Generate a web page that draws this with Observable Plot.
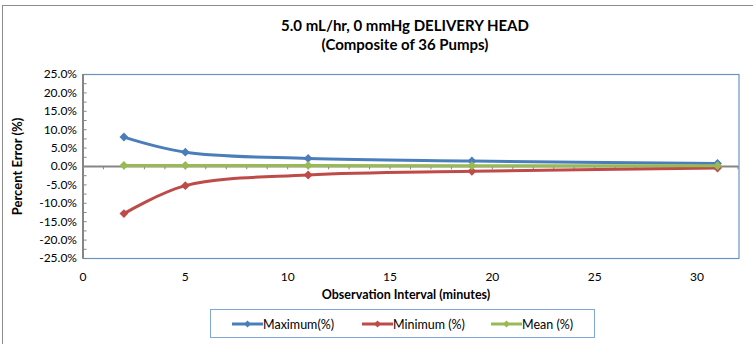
<!DOCTYPE html>
<html>
<head>
<meta charset="utf-8">
<script src="https://cdn.jsdelivr.net/npm/d3@7"></script>
<script src="https://cdn.jsdelivr.net/npm/@observablehq/plot@0.6"></script>
<style>
  html, body { margin: 0; padding: 0; background: #fff; }
  #wrap { position: relative; width: 753px; height: 344px; overflow: hidden; font-family: Lato, "Open Sans", sans-serif; }
  #wrap > svg { position: absolute; left: 0; top: 0; }
  .frameline { position: absolute; left: 2px; top: 5px; width: 800px; height: 400px; border-top: 1.5px solid #8c8c8c; border-left: 1.5px solid #8c8c8c; box-sizing: border-box; }
  .title { position: absolute; left: 0; width: 810px; top: 16px; text-align: center; font-weight: bold; font-size: 15px; line-height: 19px; color: #000; }
  .legend { position: absolute; left: 210px; top: 309px; width: 385px; height: 29px; border: 1px solid #7ea6d8; box-sizing: border-box; font-size: 12.5px; color: #000; }
  .item { position: absolute; top: 5px; display: flex; align-items: center; height: 18px; }
  #wrap .item svg { position: static; display: block; }
</style>
</head>
<body>
<div id="wrap">
  <div class="frameline"></div>
  <div class="title">5.0 mL/hr, 0 mmHg DELIVERY HEAD<br>(Composite of 36 Pumps)</div>
</div>
<script>
// Data
const intervals = [2, 5, 11, 19, 31];
const seriesNames = ["Maximum(%)", "Minimum (%)", "Mean (%)"];
const maximum = [8.0, 3.9, 2.2, 1.5, 0.8];
const minimum = [-12.8, -5.2, -2.3, -1.3, -0.4];
const mean = [0.3, 0.3, 0.3, 0.2, 0.2];
const colors = ["#4a7ebb", "#be4b48", "#98b954"];
const yTicks = [-25, -20, -15, -10, -5, 0, 5, 10, 15, 20, 25];
const xTicks = [0, 5, 10, 15, 20, 25, 30];

const seriesValues = [maximum, minimum, mean];
const rows = [];
seriesNames.forEach((name, i) => {
  intervals.forEach((x, j) => rows.push({series: name, x, y: seriesValues[i][j]}));
});

const minorY = d3.range(-25, 25.01, 2.5);
const minorX = d3.range(0, 33, 1);

const chart = Plot.plot({
  width: 753,
  height: 344,
  marginLeft: 82.5,
  marginRight: 14.5,
  marginTop: 74,
  marginBottom: 86,
  style: {fontFamily: "Lato, 'Open Sans', sans-serif", background: "transparent"},
  x: {domain: [0, 32.05]},
  y: {domain: [-25, 25]},
  color: {domain: seriesNames, range: colors},
  marks: [
    Plot.frame({stroke: "#4f81bd", strokeWidth: 1.2, strokeOpacity: 0.85}),
    Plot.ruleY(minorY, {x1: 0, x2: 0.2, stroke: "#868686", strokeWidth: 1}),
    Plot.ruleX(minorX.filter(d => d > 0), {y1: 0, y2: -0.9, stroke: "#868686", strokeWidth: 1}),
    Plot.ruleY([0], {stroke: "#868686", strokeWidth: 2}),
    Plot.ruleX([0], {stroke: "#868686", strokeWidth: 2}),
    Plot.axisY(yTicks, {tickSize: 0, tickPadding: 6, tickFormat: d => d.toFixed(1) + "%", fontSize: 12, fill: "#000", label: null}),
    Plot.axisX(xTicks, {tickSize: 0, tickPadding: 14, fontSize: 12, fill: "#000", label: null}),
    Plot.text(["Percent Error (%)"], {x: -3.2, y: 0, rotate: -90, fontWeight: "bold", fontSize: 13, fill: "#000", textAnchor: "middle"}),
    Plot.text(["Observation Interval (minutes)"], {frameAnchor: "bottom", dy: 40, fontWeight: "bold", fontSize: 12.5, fill: "#000", dx: -5}),
    Plot.line(rows, {x: "x", y: "y", z: "series", stroke: "series", strokeWidth: 3, curve: "catmull-rom"}),
    Plot.dot(rows, {x: "x", y: "y", fill: "series", symbol: "diamond2", r: 4})
  ]
});
document.getElementById("wrap").appendChild(chart);

// Legend
const legend = document.createElement("div");
legend.className = "legend";
const positions = [21, 151, 280];
seriesNames.forEach((name, i) => {
  const item = document.createElement("div");
  item.className = "item";
  item.style.left = positions[i] + "px";
  item.innerHTML = `<svg width="31" height="10"><line x1="0" y1="5" x2="31" y2="5" stroke="${colors[i]}" stroke-width="3"/><path d="M15.5,1.5 L19,5 L15.5,8.5 L12,5 Z" fill="${colors[i]}"/></svg><span>${name}</span>`;
  legend.appendChild(item);
});
document.getElementById("wrap").appendChild(legend);
</script>
</body>
</html>
